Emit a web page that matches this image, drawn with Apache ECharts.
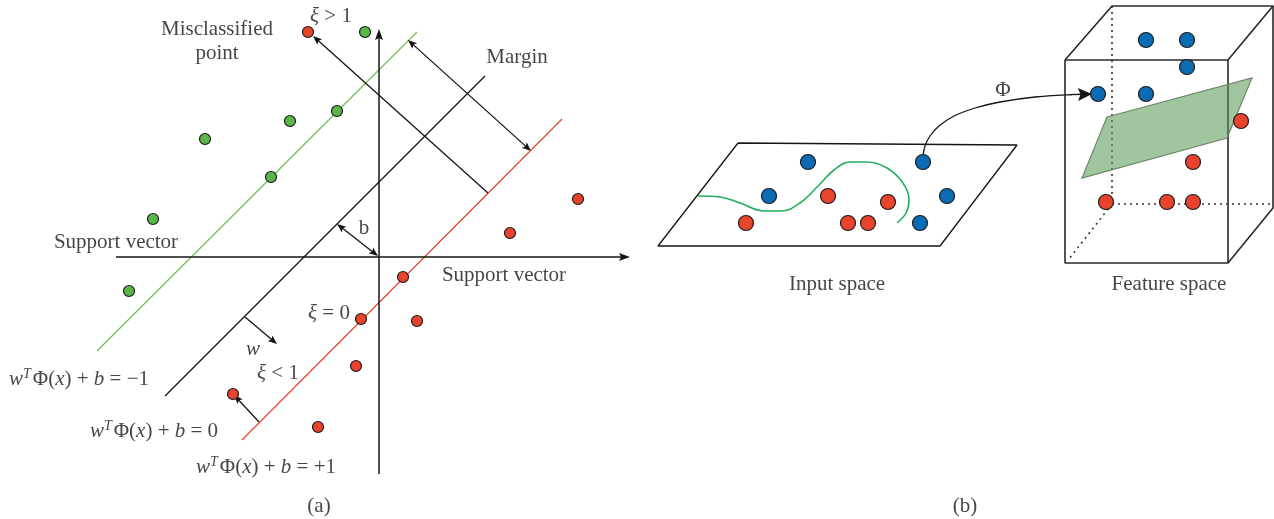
<!DOCTYPE html>
<html>
<head>
<meta charset="utf-8">
<script src="https://cdn.jsdelivr.net/npm/echarts@6/dist/echarts.min.js"></script>
<style>
  html, body { margin: 0; padding: 0; background: #ffffff; }
  #chart { width: 1274px; height: 519px; }
</style>
</head>
<body>
<div id="chart"></div>
<script>
// ---- (a) linear soft-margin SVM ----
const axisX = [[116, 257], [630, 257]];
const axisY = [[379, 474], [379, 29]];
const hyperplaneMinus = [[97, 351], [417, 32]];
const hyperplaneZero = [[165, 396], [485, 76]];
const hyperplanePlus = [[242, 440], [562, 119]];

const marginArrow = [[408, 40], [531, 151]];
const slackLargeArrow = [[488, 193], [313, 36]];
const biasArrow = [[337, 224], [378, 256]];
const normalArrow = [[245, 317], [277, 344]];
const slackSmallArrow = [[259, 422], [234, 395]];

const classNeg = [[365, 32], [337, 111], [290, 121], [205, 139], [271, 177], [153, 219], [129, 291]];
const classPos = [[308, 32], [578, 199], [510, 233], [403, 277], [361, 319], [417, 321], [356, 366], [233, 394], [318, 427]];

// ---- (b) mapping from input space to feature space ----
const inputPlane = [[738, 143], [1017, 145], [940, 246], [658, 246], [738, 143]];
const inputBoundary = [[698, 196], [720, 197], [740, 203], [764, 211], [781, 211], [800, 203], [820, 184], [834, 170], [850, 162], [867, 162], [887, 168], [903, 183], [909, 200], [906, 213], [897, 223]];
const inputBlue = [[808, 162], [923, 162], [769, 196], [947, 196], [920, 223]];
const inputRed = [[746, 223], [828, 196], [888, 202], [848, 223], [868, 223]];

const phiCurve = [[923, 157], [925, 146], [930, 136], [939, 126], [954, 116], [975, 108], [1000, 102], [1035, 97], [1072, 94.6]];
const phiArrow = [[1070, 94.7], [1092, 94]];

const boxFront = [[1065, 60], [1228, 60], [1228, 263], [1065, 263], [1065, 60]];
const boxBack = [[1065, 60], [1112, 6], [1273, 6], [1273, 208], [1228, 263]];
const boxTopRight = [[1273, 6], [1228, 60]];
const hiddenVertical = [[1112, 6], [1112, 204], [1273, 204]];
const hiddenDepth = [[1112, 204], [1069, 259]];
const featurePlane = [[1107, 117], [1252, 78], [1227, 138], [1082, 178]];
const featureBlue = [[1146, 40], [1187, 40], [1187, 67], [1098, 94], [1146, 94]];
const featureRed = [[1241, 121], [1193, 162], [1106, 202], [1167, 202], [1193, 202]];

// ---- text ----
const plainLabels = ['Misclassified', 'point', 'Margin', 'Support vector', 'b', 'Support vector', '(a)', 'Φ', 'Input space', 'Feature space', '(b)'];
const plainLabelPos = [[217, 29], [217, 53], [517, 57], [116, 242], [364, 228], [504, 275], [319, 506], [1003, 90], [837, 284], [1169, 284], [965, 506]];
const slackLabels = ['> 1', '= 0', '< 1'];
const slackLabelPos = [[331, 16], [329, 313], [278, 373]];
const italicLabels = ['w'];
const italicLabelPos = [[253, 349]];
const hyperplaneRhs = ['−1', '0', '+1'];
const hyperplaneLabelPos = [[79, 379], [154, 431], [266, 467]];

const INK = '#161415';
const RED = '#e8432c';
const GREEN_DOT = '#5bb548';
const GREEN_LINE = '#6cc24f';
const BLUE = '#0b6cb4';
const SERIF = '"Liberation Serif", "DejaVu Serif", serif';
const FONT_SIZE = 21;

function polyline(data, color, width, dash, z) {
  return {
    type: 'line', data, symbol: 'none', showSymbol: false, silent: true,
    lineStyle: { color, width, type: dash || 'solid', cap: 'butt' }, z: z || 2
  };
}

function smoothCurve(data, color, width, z) {
  const s = polyline(data, color, width, null, z);
  s.smooth = 0.4;
  return s;
}

function dots(data, color, size) {
  return {
    type: 'scatter', data, symbolSize: size, silent: true, z: 6,
    itemStyle: { color, borderColor: '#1c1c1c', borderWidth: 1.2, opacity: 1 }
  };
}

// arrows: straight segment with filled heads at the flagged ends
function arrows(list, color, width, len, half, notch) {
  return {
    type: 'custom', silent: true, z: 4,
    data: list.map(a => [a.seg[0][0], a.seg[0][1], a.seg[1][0], a.seg[1][1], a.heads[0], a.heads[1]]),
    encode: { x: [0, 2], y: [1, 3] },
    renderItem(params, api) {
      const a = api.coord([api.value(0), api.value(1)]);
      const b = api.coord([api.value(2), api.value(3)]);
      const dx = b[0] - a[0], dy = b[1] - a[1];
      const d = Math.hypot(dx, dy), ux = dx / d, uy = dy / d;
      const head = (tip, vx, vy) => {
        const px = -vy, py = vx;
        const bx = tip[0] - vx * len, by = tip[1] - vy * len;
        return {
          type: 'polygon',
          shape: { points: [tip, [bx + px * half, by + py * half], [tip[0] - vx * (len - notch), tip[1] - vy * (len - notch)], [bx - px * half, by - py * half]] },
          style: { fill: color }
        };
      };
      const children = [];
      let s = a, e = b;
      if (api.value(4)) { children.push(head(a, -ux, -uy)); s = [a[0] + ux * len * 0.6, a[1] + uy * len * 0.6]; }
      if (api.value(5)) { children.push(head(b, ux, uy)); e = [b[0] - ux * len * 0.6, b[1] - uy * len * 0.6]; }
      children.unshift({ type: 'line', shape: { x1: s[0], y1: s[1], x2: e[0], y2: e[1] }, style: { stroke: color, lineWidth: width } });
      return { type: 'group', children };
    }
  };
}

function polygon(corners, fill, stroke) {
  const flat = [];
  corners.forEach(p => flat.push(p[0], p[1]));
  return {
    type: 'custom', silent: true, z: 3,
    data: [flat],
    encode: { x: [0, 2, 4, 6], y: [1, 3, 5, 7] },
    renderItem(params, api) {
      const pts = [];
      for (let i = 0; i < corners.length * 2; i += 2) pts.push(api.coord([api.value(i), api.value(i + 1)]));
      return { type: 'polygon', shape: { points: pts }, style: { fill, stroke, lineWidth: 1.2 } };
    }
  };
}

// text anchored at data positions, drawn as labels of invisible points
function textSeries(data, formatter, extra) {
  return {
    type: 'scatter', data, symbolSize: 1, silent: true, z: 7,
    itemStyle: { color: 'rgba(0,0,0,0)' },
    label: Object.assign({
      show: true, position: 'inside', align: 'center', verticalAlign: 'middle',
      color: INK, textBorderWidth: 0, fontFamily: SERIF, fontSize: FONT_SIZE, formatter
    }, extra || {})
  };
}

const mathRich = {
  i: { fontFamily: SERIF, fontSize: FONT_SIZE, fontStyle: 'italic', color: INK, lineHeight: 24 },
  n: { fontFamily: SERIF, fontSize: FONT_SIZE, color: INK, lineHeight: 24 },
  s: { fontFamily: SERIF, fontSize: 14, fontStyle: 'italic', color: INK, lineHeight: 13, verticalAlign: 'top', padding: [0, 2, 0, 0] }
};

const option = {
  animation: false,
  backgroundColor: '#ffffff',
  grid: { left: 0, right: 0, top: 0, bottom: 0 },
  xAxis: { type: 'value', min: 0, max: 1274, show: false },
  yAxis: { type: 'value', min: 0, max: 519, inverse: true, show: false },
  series: [
    // (a)
    polyline(hyperplaneMinus, GREEN_LINE, 1.2),
    polyline(hyperplaneZero, INK, 1.2),
    polyline(hyperplanePlus, RED, 1.2),
    arrows([
      { seg: axisX, heads: [0, 1] },
      { seg: axisY, heads: [0, 1] }
    ], INK, 1.5, 11, 4, 2),
    arrows([
      { seg: marginArrow, heads: [1, 1] },
      { seg: slackLargeArrow, heads: [0, 1] },
      { seg: biasArrow, heads: [1, 1] },
      { seg: normalArrow, heads: [0, 1] },
      { seg: slackSmallArrow, heads: [0, 1] }
    ], INK, 1.3, 9, 3.6, 1.8),
    dots(classNeg, GREEN_DOT, 11),
    dots(classPos, RED, 11),

    // (b) input space
    polyline(inputPlane, INK, 1.3),
    smoothCurve(inputBoundary, '#22af5d', 1.6),
    smoothCurve(phiCurve, INK, 1.3),
    arrows([{ seg: phiArrow, heads: [0, 1] }], INK, 1.3, 14, 6.5, 2.5),
    dots(inputBlue, BLUE, 15),
    dots(inputRed, RED, 15),

    // (b) feature space
    polyline(boxFront, '#2a2a2a', 1.6),
    polyline(boxBack, '#2a2a2a', 1.6),
    polyline(boxTopRight, '#2a2a2a', 1.6),
    polyline(hiddenVertical, '#333333', 1.6, [2, 4]),
    polyline(hiddenDepth, '#333333', 1.6, [2, 4]),
    polygon(featurePlane, 'rgba(84,150,78,0.55)', '#6a8768'),
    dots(featureBlue, BLUE, 15),
    dots(featureRed, RED, 15),

    // text
    textSeries(plainLabelPos.map((p, k) => ({ value: p, name: plainLabels[k] })), p => p.name),
    textSeries(italicLabelPos.map((p, k) => ({ value: p, name: italicLabels[k] })), p => p.name, { fontStyle: 'italic' }),
    textSeries(slackLabelPos.map((p, k) => ({ value: p, name: slackLabels[k] })),
      p => '{i|ξ}{n| ' + p.name + '}', { rich: mathRich }),
    textSeries(hyperplaneLabelPos.map((p, k) => ({ value: p, name: hyperplaneRhs[k] })),
      p => '{i|w}{s|T}{n|Φ(}{i|x}{n|) + }{i|b}{n| = ' + p.name + '}',
      { rich: mathRich })
  ]
};

const chart = echarts.init(document.getElementById('chart'));
chart.setOption(option);
</script>
</body>
</html>
